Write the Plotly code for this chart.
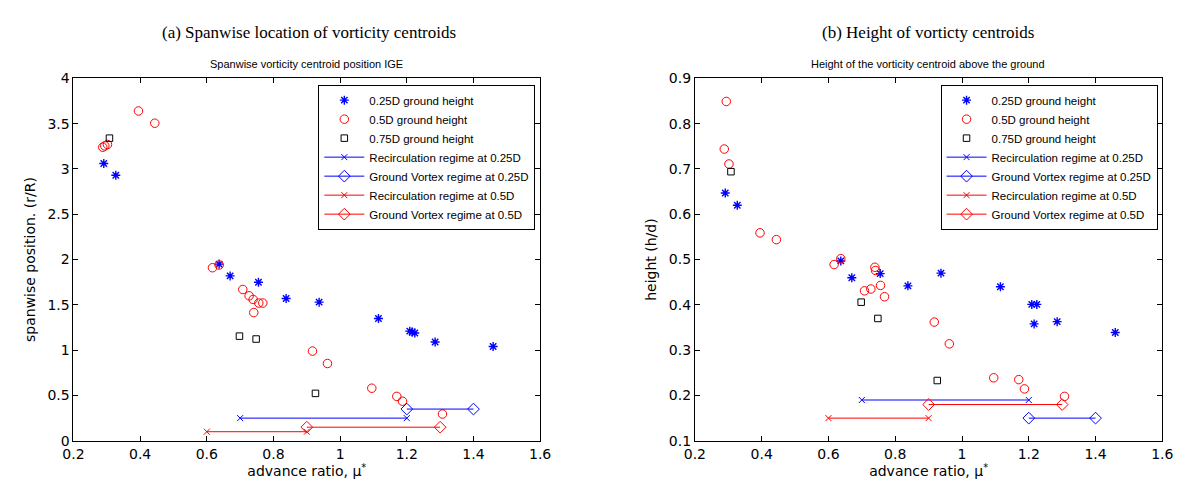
import plotly.graph_objects as go

# ---------------- data ----------------
mu_025 = [0.291, 0.327, 0.637, 0.670, 0.755, 0.838, 0.937, 1.115, 1.209, 1.216, 1.224, 1.285, 1.459]
span_025 = [3.06, 2.93, 1.95, 1.82, 1.75, 1.57, 1.53, 1.35, 1.21, 1.20, 1.19, 1.09, 1.04]
height_025 = [0.647, 0.620, 0.497, 0.460, 0.469, 0.442, 0.470, 0.440, 0.401, 0.358, 0.401, 0.363, 0.339]

mu_05 = [0.288, 0.294, 0.302, 0.395, 0.444, 0.617, 0.637, 0.708, 0.727, 0.739, 0.741,
         0.756, 0.768, 0.917, 0.962, 1.095, 1.170, 1.187, 1.307]
span_05 = [3.24, 3.255, 3.27, 3.64, 3.505, 1.91, 1.94, 1.67, 1.60, 1.56, 1.415,
           1.52, 1.52, 0.99, 0.853, 0.58, 0.49, 0.437, 0.295]
height_05 = [0.744, 0.849, 0.711, 0.559, 0.544, 0.489, 0.502, 0.431, 0.435, 0.483, 0.476,
             0.443, 0.418, 0.362, 0.314, 0.239, 0.235, 0.2145, 0.198]

mu_075 = [0.308, 0.698, 0.748, 0.926]
span_075 = [3.34, 1.155, 1.123, 0.523]
height_075 = [0.694, 0.406, 0.370, 0.233]

recirc_025_mu = [0.7, 1.2]
gv_025_mu = [1.2, 1.4]
recirc_05_mu = [0.6, 0.9]
gv_05_mu = [0.9, 1.3]
# regime levels: (panel a spanwise, panel b height)
recirc_025_level = (0.25, 0.19)
gv_025_level = (0.35, 0.15)
recirc_05_level = (0.10, 0.15)
gv_05_level = (0.15, 0.18)

names = ["0.25D ground height", "0.5D ground height", "0.75D ground height",
         "Recirculation regime at 0.25D", "Ground Vortex regime at 0.25D",
         "Recirculation regime at 0.5D", "Ground Vortex regime at 0.5D"]

x_ticks = [0.2, 0.4, 0.6, 0.8, 1.0, 1.2, 1.4, 1.6]

# ---------------- figure ----------------
W, H = 1183, 484
fig = go.Figure()

BLUE = "#0000ff"
RED = "#ff0000"

def add_panel(y025, y05, y075, lev_index, xa, ya, legend):
    fig.add_trace(go.Scatter(x=mu_025, y=y025, mode="markers", name=names[0],
                             marker=dict(symbol="asterisk-open", size=7.5, color=BLUE,
                                         line=dict(color=BLUE, width=1.4)),
                             xaxis=xa, yaxis=ya, legend=legend))
    fig.add_trace(go.Scatter(x=mu_05, y=y05, mode="markers", name=names[1],
                             marker=dict(symbol="circle-open", size=8.5, color=RED,
                                         line=dict(color=RED, width=1)),
                             xaxis=xa, yaxis=ya, legend=legend))
    fig.add_trace(go.Scatter(x=mu_075, y=y075, mode="markers", name=names[2],
                             marker=dict(symbol="square-open", size=6.5, color="black",
                                         line=dict(color="black", width=1)),
                             xaxis=xa, yaxis=ya, legend=legend))
    fig.add_trace(go.Scatter(x=recirc_025_mu, y=[recirc_025_level[lev_index]] * 2,
                             mode="lines+markers", name=names[3],
                             line=dict(color=BLUE, width=1),
                             marker=dict(symbol="x-thin-open", size=6, color=BLUE,
                                         line=dict(color=BLUE, width=1)),
                             xaxis=xa, yaxis=ya, legend=legend))
    fig.add_trace(go.Scatter(x=gv_025_mu, y=[gv_025_level[lev_index]] * 2,
                             mode="lines+markers", name=names[4],
                             line=dict(color=BLUE, width=1),
                             marker=dict(symbol="diamond-open", size=9, color=BLUE,
                                         line=dict(color=BLUE, width=1)),
                             xaxis=xa, yaxis=ya, legend=legend))
    fig.add_trace(go.Scatter(x=recirc_05_mu, y=[recirc_05_level[lev_index]] * 2,
                             mode="lines+markers", name=names[5],
                             line=dict(color=RED, width=1),
                             marker=dict(symbol="x-thin-open", size=6, color=RED,
                                         line=dict(color=RED, width=1)),
                             xaxis=xa, yaxis=ya, legend=legend))
    fig.add_trace(go.Scatter(x=gv_05_mu, y=[gv_05_level[lev_index]] * 2,
                             mode="lines+markers", name=names[6],
                             line=dict(color=RED, width=1),
                             marker=dict(symbol="diamond-open", size=9, color=RED,
                                         line=dict(color=RED, width=1)),
                             xaxis=xa, yaxis=ya, legend=legend))

add_panel(span_025, span_05, span_075, 0, "x", "y", "legend")
add_panel(height_025, height_05, height_075, 1, "x2", "y2", "legend2")

SANS = "DejaVu Sans, Arial"
TICKFONT = dict(family=SANS, size=14, color="black")
LABELFONT = dict(family=SANS, size=14, color="black")
axis_common = dict(showline=True, linecolor="black", linewidth=1, mirror="ticks",
                   ticks="inside", ticklen=5, tickcolor="black", tickwidth=1,
                   showgrid=False, zeroline=False, tickfont=TICKFONT)

xa_dom = [55.5 / W, 531 / W]
xb_dom = [688.7 / W, 1165 / W]
y_dom = [1 - 439.3 / H, 1 - 64.5 / H]

LEGFONT = dict(size=11.5, family="Liberation Sans, Arial", color="black")

fig.update_layout(
    width=W, height=H,
    margin=dict(l=0, r=0, t=0, b=0),
    paper_bgcolor="white", plot_bgcolor="white",
    font=dict(family=SANS, color="black"),
    xaxis=dict(domain=xa_dom, range=[0.2, 1.6], tickvals=x_ticks, anchor="y",
               title=dict(text="advance ratio, μ<sup>*</sup>", standoff=2, font=LABELFONT),
               **axis_common),
    yaxis=dict(domain=y_dom, range=[0, 4], dtick=0.5, anchor="x",
               title=dict(text="spanwise position. (r/R)", standoff=8, font=LABELFONT),
               **axis_common),
    xaxis2=dict(domain=xb_dom, range=[0.2, 1.6], tickvals=x_ticks, anchor="y2",
                title=dict(text="advance ratio, μ<sup>*</sup>", standoff=2, font=LABELFONT),
                **axis_common),
    yaxis2=dict(domain=y_dom, range=[0.1, 0.9], dtick=0.1, anchor="x2",
                title=dict(text="height (h/d)", standoff=8, font=LABELFONT),
                **axis_common),
    legend=dict(x=305 / W, y=1 - 71 / H, xanchor="left", yanchor="top",
                bgcolor="white", bordercolor="black", borderwidth=1,
                font=LEGFONT, itemwidth=40, tracegroupgap=0),
    legend2=dict(x=939 / W, y=1 - 71 / H, xanchor="left", yanchor="top",
                 bgcolor="white", bordercolor="black", borderwidth=1,
                 font=LEGFONT, itemwidth=40, tracegroupgap=0),
    showlegend=True,
)

annotations = [
    dict(text="(a) Spanwise location of vorticity centroids", x=296 / W, y=1 - 17 / H,
         font=dict(family="Liberation Serif, Times New Roman", size=17, color="black")),
    dict(text="(b) Height of vorticty centroids", x=926 / W, y=1 - 17 / H,
         font=dict(family="Liberation Serif, Times New Roman", size=17, color="black")),
    dict(text="Spanwise vorticity centroid position IGE", x=293 / W, y=1 - 50 / H,
         font=dict(family="Liberation Sans, Arial", size=11, color="black")),
    dict(text="Height of the vorticity centroid above the ground", x=926 / W, y=1 - 50 / H,
         font=dict(family="Liberation Sans, Arial", size=11, color="black")),
]
for a in annotations:
    a.update(xref="paper", yref="paper", showarrow=False, xanchor="center", yanchor="middle")
fig.update_layout(annotations=annotations)

fig.write_html("out.html")
